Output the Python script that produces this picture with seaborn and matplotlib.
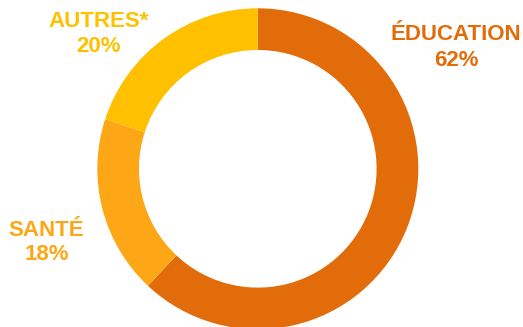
import matplotlib
matplotlib.use("Agg")
import matplotlib.pyplot as plt
import seaborn as sns

categories = ["ÉDUCATION", "SANTÉ", "AUTRES*"]
values = [62, 18, 20]
colors = ["#E36C0A", "#FDA616", "#FFC000"]

sns.set_theme(style="white")
plt.rcParams["font.family"] = ["Liberation Sans", "DejaVu Sans"]

W, H = 523, 327
fig = plt.figure(figsize=(W / 100, H / 100), dpi=100)
ax = fig.add_axes([0, 0, 1, 1])

cx, cy, r = 257.8, H - 168.8, 160.5
ax.pie(values, colors=colors, startangle=90, counterclock=False,
       center=(cx, cy), radius=r,
       wedgeprops=dict(width=41.7, linewidth=0, edgecolor="none"))

label_pos = [(456, 47.5), (46.5, 242.5), (98.5, 34)]
for cat, v, col, (x, y) in zip(categories, values, colors, label_pos):
    ax.text(x, H - y, f"{cat}\n{v}%", ha="center", va="center",
            fontsize=16, fontweight="bold", color=col, linespacing=1.25)

ax.set_xlim(0, W)
ax.set_ylim(0, H)
ax.set_aspect("equal")
ax.axis("off")
fig.savefig("out.png", dpi=100, facecolor="white")
